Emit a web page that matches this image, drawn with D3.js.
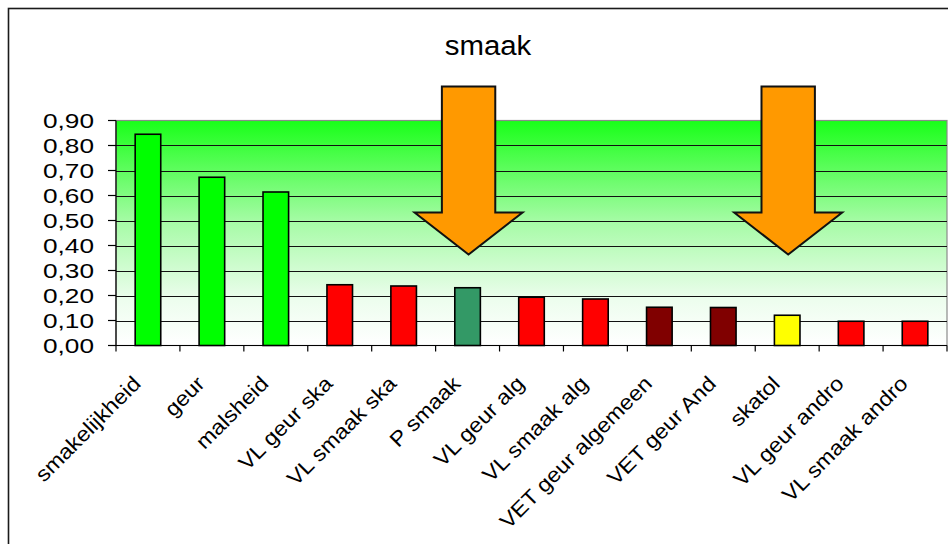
<!DOCTYPE html>
<html>
<head>
<meta charset="utf-8">
<script src="https://cdn.jsdelivr.net/npm/d3@7"></script>
<style>
  html, body { margin: 0; padding: 0; background: #ffffff; }
  svg { display: block; font-family: "Liberation Sans", Arial, Helvetica, sans-serif; }
</style>
</head>
<body>
<svg id="chart" width="948" height="544"></svg>
<script>
// Scores per attribute (taste panel)
const categories = [
  "smakelijkheid", "geur", "malsheid", "VL geur ska", "VL smaak ska", "P smaak",
  "VL geur alg", "VL smaak alg", "VET geur algemeen", "VET geur And", "skatol",
  "VL geur andro", "VL smaak andro"
];
const values = [0.845, 0.673, 0.614, 0.243, 0.238, 0.231, 0.193, 0.186, 0.153, 0.152, 0.121, 0.097, 0.097];
const barColors = [
  "#00ff00", "#00ff00", "#00ff00", "#ff0000", "#ff0000", "#339966",
  "#ff0000", "#ff0000", "#800000", "#800000", "#ffff00", "#ff0000", "#ff0000"
];
const yTicks = [0, 0.1, 0.2, 0.3, 0.4, 0.5, 0.6, 0.7, 0.8, 0.9];
const arrowTargets = ["P smaak", "skatol"];
const title = "smaak";

const svg = d3.select("#chart");
const plot = { left: 116, right: 947, top: 120.5, bottom: 345.5 };

const x = d3.scaleBand().domain(categories).range([plot.left, plot.right]).padding(0);
const y = d3.scaleLinear().domain([0, 0.9]).range([plot.bottom, plot.top]);
const fmt = v => d3.format(".2f")(v).replace(".", ",");

// Outer chart frame (continues past the right and bottom edges)
svg.append("rect")
  .attr("x", 8.5).attr("y", 8.5).attr("width", 980).attr("height", 600)
  .attr("fill", "#ffffff").attr("stroke", "#1a1a1a").attr("stroke-width", 1.6);

// Plot background: green fading to white
const defs = svg.append("defs");
const grad = defs.append("linearGradient")
  .attr("id", "plotBg").attr("x1", 0).attr("y1", 0).attr("x2", 0).attr("y2", 1);
grad.append("stop").attr("offset", 0).attr("stop-color", "#19ff19");
grad.append("stop").attr("offset", 0.45).attr("stop-color", "#a6fba6");
grad.append("stop").attr("offset", 0.8).attr("stop-color", "#edfdee");
grad.append("stop").attr("offset", 1).attr("stop-color", "#ffffff");

svg.append("rect")
  .attr("x", plot.left).attr("y", plot.top)
  .attr("width", plot.right - plot.left).attr("height", plot.bottom - plot.top)
  .attr("fill", "url(#plotBg)").attr("stroke", "#8a8a8a").attr("stroke-width", 1.2);

// Horizontal gridlines
svg.append("g").selectAll("line")
  .data(yTicks.filter(t => t > 0 && t < 0.9))
  .join("line")
  .attr("x1", plot.left).attr("x2", plot.right)
  .attr("y1", d => Math.round(y(d)) + 0.5).attr("y2", d => Math.round(y(d)) + 0.5)
  .attr("stroke", "#111111").attr("stroke-width", 1);

// Bars
const barW = x.bandwidth() * 0.4;
svg.append("g").selectAll("rect")
  .data(values)
  .join("rect")
  .attr("x", (d, i) => x(categories[i]) + (x.bandwidth() - barW) / 2)
  .attr("y", d => y(d))
  .attr("width", barW)
  .attr("height", d => y(0) - y(d))
  .attr("fill", (d, i) => barColors[i])
  .attr("stroke", "#000000").attr("stroke-width", 1.6);

// Y axis
const yAxis = svg.append("g");
yAxis.append("line")
  .attr("x1", plot.left).attr("x2", plot.left)
  .attr("y1", plot.top).attr("y2", plot.bottom)
  .attr("stroke", "#000").attr("stroke-width", 1.2);
yAxis.selectAll("line.tick")
  .data(yTicks).join("line").attr("class", "tick")
  .attr("x1", plot.left - 8).attr("x2", plot.left)
  .attr("y1", d => y(d)).attr("y2", d => y(d))
  .attr("stroke", "#000").attr("stroke-width", 1.2);
yAxis.selectAll("text")
  .data(yTicks).join("text")
  .attr("transform", d => `translate(94,${y(d) + 7.2}) scale(1.28,1)`)
  .attr("text-anchor", "end")
  .attr("font-size", 20.5)
  .attr("fill", "#000")
  .text(d => fmt(d));

// X axis
const xAxis = svg.append("g");
xAxis.append("line")
  .attr("x1", plot.left).attr("x2", plot.right)
  .attr("y1", plot.bottom).attr("y2", plot.bottom)
  .attr("stroke", "#000").attr("stroke-width", 1.2);
const boundaries = categories.map(c => x(c)).concat([x(categories[categories.length - 1]) + x.bandwidth()]);
xAxis.selectAll("line.tick")
  .data(boundaries).join("line").attr("class", "tick")
  .attr("x1", d => d).attr("x2", d => d)
  .attr("y1", plot.bottom).attr("y2", plot.bottom + 6)
  .attr("stroke", "#000").attr("stroke-width", 1.2);
xAxis.selectAll("text")
  .data(categories).join("text")
  .attr("transform", d => `translate(${x(d) + x.bandwidth() / 2 - 6},385) rotate(-45) scale(1.1,1)`)
  .attr("text-anchor", "end")
  .attr("font-size", 21)
  .attr("fill", "#000")
  .text(d => d);

// Downward arrows marking two attributes
const arrowPath = cx => {
  const top = plot.top - 34, neck = plot.top + 92, tip = plot.top + 134;
  const sw = 26.7, hw = 54;
  return `M${cx - sw},${top} L${cx + sw},${top} L${cx + sw},${neck} L${cx + hw},${neck}` +
         ` L${cx},${tip} L${cx - hw},${neck} L${cx - sw},${neck} Z`;
};
svg.append("g").selectAll("path")
  .data(arrowTargets)
  .join("path")
  .attr("d", d => arrowPath(x(d) + x.bandwidth() / 2 + 1))
  .attr("fill", "#ff9900")
  .attr("stroke", "#111111").attr("stroke-width", 2)
  .attr("stroke-linejoin", "miter");

// Title
svg.append("text")
  .attr("transform", "translate(488,55) scale(1.05,1)")
  .attr("text-anchor", "middle")
  .attr("font-size", 28)
  .attr("fill", "#000")
  .text(title);
</script>
</body>
</html>
